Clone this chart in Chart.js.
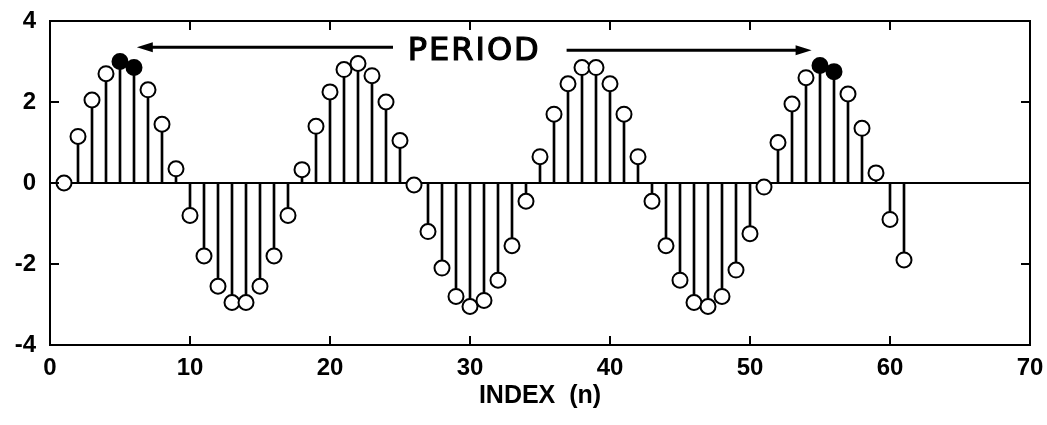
<!DOCTYPE html>
<html>
<head>
<meta charset="utf-8">
<script src="https://cdn.jsdelivr.net/npm/chart.js@4"></script>
<style>
  html, body { margin: 0; padding: 0; background: #fff; }
  #wrap { width: 1047px; height: 425px; }
</style>
</head>
<body>
<div id="wrap"><canvas id="stem"></canvas></div>
<script>
// sample index n
var indexN = [1,2,3,4,5,6,7,8,9,10,11,12,13,14,15,16,17,18,19,20,
              21,22,23,24,25,26,27,28,29,30,31,32,33,34,35,36,37,38,39,40,
              41,42,43,44,45,46,47,48,49,50,51,52,53,54,55,56,57,58,59,60,61];
// sequence values
var seqValues = [0, 1.15, 2.05, 2.7, 3.0, 2.85, 2.3, 1.45, 0.35, -0.8,
                 -1.8, -2.55, -2.95, -2.95, -2.55, -1.8, -0.8, 0.33, 1.4, 2.25,
                 2.8, 2.95, 2.65, 2.0, 1.05, -0.05, -1.2, -2.1, -2.8, -3.05,
                 -2.9, -2.4, -1.55, -0.45, 0.65, 1.7, 2.45, 2.85, 2.85, 2.45,
                 1.7, 0.65, -0.45, -1.55, -2.4, -2.95, -3.05, -2.8, -2.15, -1.25,
                 -0.1, 1.0, 1.95, 2.6, 2.9, 2.75, 2.2, 1.35, 0.25, -0.9, -1.9];
// samples marked with filled dots
var filledN = [5, 6, 55, 56];
var xTicks = [0, 10, 20, 30, 40, 50, 60, 70];
var yTicks = [-4, -2, 0, 2, 4];
var xTitle = 'INDEX  (n)';
var noteText = 'PERIOD';

var tickFont = { family: "'Liberation Sans', Arial", size: 24, weight: 'bold' };
var titleFont = { family: "'Liberation Sans', Arial", size: 25, weight: 'bold' };

var points = indexN.map(function (n, i) { return { x: n, y: seqValues[i] }; });

// frame, inward ticks, zero line and the PERIOD note
var framePlugin = {
  id: 'frame',
  afterDatasetsDraw: function (chart) {
    var ctx = chart.ctx, a = chart.chartArea;
    var xs = chart.scales.x, ys = chart.scales.y;
    ctx.save();
    ctx.strokeStyle = '#000';
    ctx.lineWidth = 2;
    ctx.strokeRect(a.left, a.top, a.right - a.left, a.bottom - a.top);
    ctx.beginPath();
    xTicks.forEach(function (t) {
      var px = xs.getPixelForValue(t);
      ctx.moveTo(px, a.bottom); ctx.lineTo(px, a.bottom - 9);
      ctx.moveTo(px, a.top); ctx.lineTo(px, a.top + 9);
    });
    yTicks.forEach(function (t) {
      var py = ys.getPixelForValue(t);
      ctx.moveTo(a.left, py); ctx.lineTo(a.left + 9, py);
      ctx.moveTo(a.right, py); ctx.lineTo(a.right - 9, py);
    });
    ctx.stroke();

    // hand drawn annotation
    var y1 = ys.getPixelForValue(3.35), y2 = ys.getPixelForValue(3.28);
    var l0 = xs.getPixelForValue(24.5), l1 = xs.getPixelForValue(6.2);
    var r0 = xs.getPixelForValue(36.9), r1 = xs.getPixelForValue(54.4);
    ctx.lineWidth = 3;
    ctx.beginPath();
    ctx.moveTo(l0, y1); ctx.lineTo(l1 + 12, y1);
    ctx.moveTo(r0, y2); ctx.lineTo(r1 - 12, y2);
    ctx.stroke();
    ctx.fillStyle = '#000';
    ctx.beginPath();
    ctx.moveTo(l1, y1); ctx.lineTo(l1 + 16, y1 - 5); ctx.lineTo(l1 + 16, y1 + 5); ctx.closePath();
    ctx.moveTo(r1, y2); ctx.lineTo(r1 - 16, y2 - 5); ctx.lineTo(r1 - 16, y2 + 5); ctx.closePath();
    ctx.fill();
    ctx.font = "32px 'DejaVu Sans', sans-serif";
    ctx.textAlign = 'center';
    ctx.textBaseline = 'middle';
    ctx.letterSpacing = '2px';
    ctx.lineWidth = 1.2;
    var tx = xs.getPixelForValue(30.3), ty = ys.getPixelForValue(3.25);
    ctx.fillText(noteText, tx, ty);
    ctx.strokeText(noteText, tx, ty);
    ctx.restore();
  },
  beforeDatasetsDraw: function (chart) {
    var ctx = chart.ctx, a = chart.chartArea;
    var py = chart.scales.y.getPixelForValue(0);
    ctx.save();
    ctx.strokeStyle = '#000';
    ctx.lineWidth = 2;
    ctx.beginPath();
    ctx.moveTo(a.left, py); ctx.lineTo(a.right, py);
    ctx.stroke();
    ctx.restore();
  }
};

new Chart(document.getElementById('stem'), {
  type: 'scatter',
  data: {
    datasets: [{
      type: 'scatter',
      label: 'samples',
      data: points,
      showLine: false,
      pointRadius: 7.5,
      pointBorderWidth: 2,
      pointBorderColor: '#000',
      pointBackgroundColor: indexN.map(function (n) { return filledN.indexOf(n) >= 0 ? '#000' : '#fff'; }),
      order: 0
    }, {
      type: 'bar',
      label: 'stems',
      data: points,
      backgroundColor: '#000',
      barThickness: 2,
      order: 1
    }]
  },
  options: {
    responsive: true,
    maintainAspectRatio: false,
    animation: false,
    layout: { padding: { top: 21, right: 17, left: 0, bottom: 0 } },
    plugins: { legend: { display: false }, tooltip: { enabled: false } },
    scales: {
      x: {
        type: 'linear', min: 0, max: 70, offset: false,
        grid: { display: false, offset: false }, border: { display: false },
        afterBuildTicks: function (s) { s.ticks = xTicks.map(function (v) { return { value: v }; }); },
        afterFit: function (s) { s.height = 80; },
        ticks: { color: '#000', font: tickFont, padding: 1, maxRotation: 0 },
        title: { display: true, text: xTitle, color: '#000', font: titleFont, padding: { top: 0, bottom: 14 } }
      },
      y: {
        min: -4, max: 4,
        grid: { display: false }, border: { display: false },
        afterBuildTicks: function (s) { s.ticks = yTicks.map(function (v) { return { value: v }; }); },
        afterFit: function (s) { s.width = 50; },
        ticks: { color: '#000', font: tickFont, padding: 6 }
      }
    }
  },
  plugins: [framePlugin]
});
</script>
</body>
</html>
